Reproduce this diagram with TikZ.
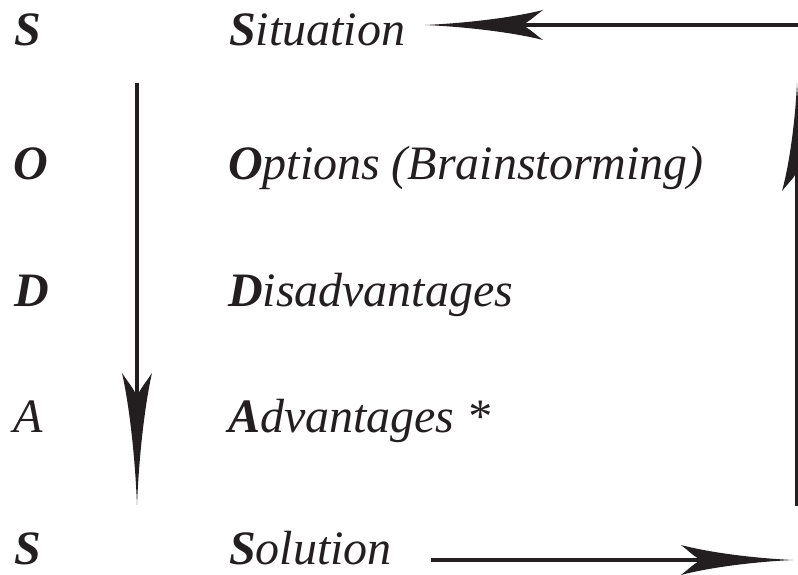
\documentclass[tikz,border=0pt]{standalone}
\usepackage{fontspec}
\setmainfont{Liberation Serif}
\usetikzlibrary{arrows.meta}
\definecolor{ink}{HTML}{231F20}
\pgfdeclarearrow{
  name=Needle,
  defaults={length=120pt, width=30pt},
  setup code={
    \pgfarrowssettipend{0pt}
    \pgfarrowssetlineend{-0.6\pgfarrowlength}
    \pgfarrowssetbackend{-\pgfarrowlength}
    \pgfarrowssavethe\pgfarrowlength
    \pgfarrowssavethe\pgfarrowwidth
  },
  parameters={\the\pgfarrowlength,\the\pgfarrowwidth},
  drawing code={
    \pgfpathmoveto{\pgfqpoint{0pt}{0pt}}
    \pgfpathcurveto{\pgfqpoint{-0.35\pgfarrowlength}{0.06\pgfarrowwidth}}{\pgfqpoint{-0.75\pgfarrowlength}{0.25\pgfarrowwidth}}{\pgfqpoint{-\pgfarrowlength}{0.5\pgfarrowwidth}}
    \pgfpathcurveto{\pgfqpoint{-0.93\pgfarrowlength}{0.3\pgfarrowwidth}}{\pgfqpoint{-0.88\pgfarrowlength}{0.1\pgfarrowwidth}}{\pgfqpoint{-0.82\pgfarrowlength}{0pt}}
    \pgfpathcurveto{\pgfqpoint{-0.88\pgfarrowlength}{-0.1\pgfarrowwidth}}{\pgfqpoint{-0.93\pgfarrowlength}{-0.3\pgfarrowwidth}}{\pgfqpoint{-\pgfarrowlength}{-0.5\pgfarrowwidth}}
    \pgfpathcurveto{\pgfqpoint{-0.75\pgfarrowlength}{-0.25\pgfarrowwidth}}{\pgfqpoint{-0.35\pgfarrowlength}{-0.06\pgfarrowwidth}}{\pgfqpoint{0pt}{0pt}}
    \pgfpathclose
    \pgfusepathqfill
  }
}
\tikzset{
  lbl/.style={anchor=base west, inner sep=0pt, outer sep=0pt, text=ink,
    font=\fontsize{48}{50}\selectfont\itshape},
  arr/.style={draw=ink, line width=4.5pt, fill=ink},
}
\newcommand{\bi}[1]{\textbf{#1}}
\begin{document}
\begin{tikzpicture}[x=1pt,y=-1pt]
\useasboundingbox (0,0) rectangle (798,575);
% letters
\node[lbl] (l1) at (14,46) {\bi{S}};
\node[lbl] (l2) at (13,179) {\bi{O}};
\node[lbl] (l3) at (14,306) {\bi{D}};
\node[lbl] (l4) at (13,432) {A};
\node[lbl] (l5) at (14,564) {\bi{S}};
% words
\node[lbl] (w1) at (229,46) {\bi{S}ituation};
\node[lbl] (w2) at (228,179) {\bi{O}ptions (Brainstorming)};
\node[lbl] (w3) at (228,306) {\bi{D}isadvantages};
\node[lbl] (w4) at (228,432) {\bi{A}dvantages *};
\node[lbl] (w5) at (229,564) {\bi{S}olution};
% coordinates
\coordinate (topStart) at (800,25);
\coordinate (topTip) at (425,25);
\coordinate (leftTop) at (137,83);
\coordinate (leftTip) at (137,505);
\coordinate (botStart) at (431,560);
\coordinate (botTip) at (793,560);
\coordinate (rightBot) at (797,506);
\coordinate (rightTip) at (797,83);
% connectors
\draw[arr, -{Needle[length=118pt,width=30pt]}] (topStart) -- (topTip);
\draw[arr, -{Needle[length=132pt,width=30pt]}] (leftTop) -- (leftTip);
\draw[arr, -{Needle[length=112pt,width=30pt]}] (botStart) -- (botTip);
\draw[arr, -{Needle[length=108pt,width=30pt]}] (rightBot) -- (rightTip);
\end{tikzpicture}
\end{document}
